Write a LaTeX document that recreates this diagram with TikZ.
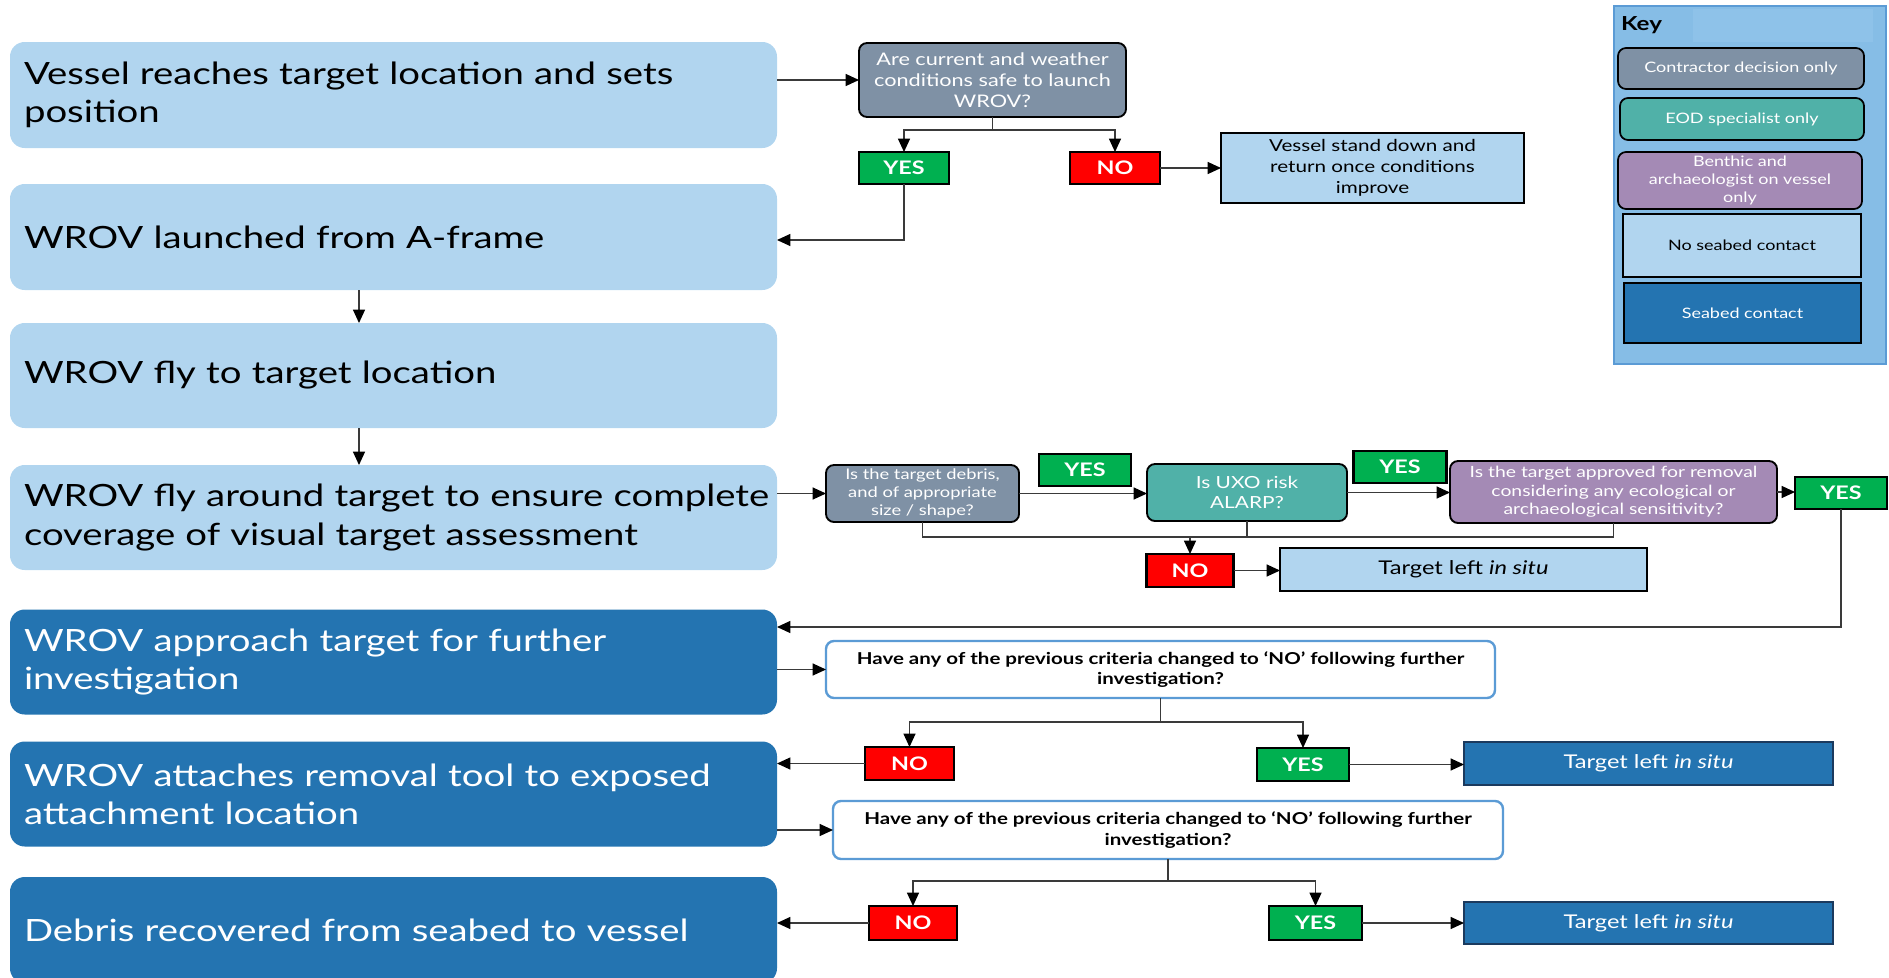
\documentclass[tikz,border=0pt]{standalone}
\usepackage{fontspec}
\setmainfont{Lato}[FakeStretch=1.25]
\usetikzlibrary{arrows.meta,calc}
\definecolor{lblue}{HTML}{B1D5EF}
\definecolor{dblue}{HTML}{2474B1}
\definecolor{cgray}{HTML}{7F91A5}
\definecolor{cteal}{HTML}{50B1A8}
\definecolor{cpurple}{HTML}{A48AB5}
\definecolor{cgreen}{HTML}{00B050}
\definecolor{cred}{HTML}{FF0000}
\definecolor{keybg}{HTML}{86BDE6}
\definecolor{keyhead}{HTML}{8EC2E9}
\definecolor{keyline}{HTML}{5B9BD5}
\definecolor{navy}{HTML}{1B3A5E}
\definecolor{connc}{HTML}{3A3A3A}
\begin{document}
\begin{tikzpicture}[x=0.75pt,y=-0.75pt,
  every node/.style={inner sep=0pt, outer sep=0pt},
  wh/.style 2 args={minimum width=#1*0.75pt, minimum height=#2*0.75pt},
  lbox/.style={rounded corners=11pt, text width=739*0.75pt, inner xsep=10.5pt, align=left, font=\fontsize{23}{28.5}\selectfont},
  lightbox/.style={lbox, fill=lblue, text=black},
  darkbox/.style={lbox, fill=dblue, text=white},
  decide/.style={draw=black, line width=1.4pt, rounded corners=6pt, text=white, align=center},
  qbox/.style={draw=keyline, line width=1.8pt, rounded corners=6pt, fill=white, text=black, align=center, font=\bfseries\fontsize{12.3}{15.4}\selectfont},
  yesbox/.style={draw=black, line width=1.6pt, fill=cgreen, text=white, font=\bfseries\fontsize{14}{16}\selectfont},
  nobox/.style={draw=black, line width=1.6pt, fill=cred, text=white, font=\bfseries\fontsize{14}{16}\selectfont},
  ltarget/.style={draw=black, line width=1.4pt, fill=lblue, text=black, align=center, font=\fontsize{14.2}{15.75}\selectfont},
  dtarget/.style={draw=navy, line width=2pt, fill=dblue, text=white, align=center, font=\fontsize{14.2}{15.75}\selectfont},
  keyitem/.style={draw=black, line width=1.3pt, align=center, font=\fontsize{10.8}{13.5}\selectfont},
  conn/.style={draw=connc, line width=0.9pt},
  arr/.style={draw=connc, line width=0.9pt, -{Triangle[length=10pt,width=9pt,color=black]}}
]
\useasboundingbox (0,0) rectangle (1889,978);
\clip (0,0) rectangle (1889,978);

% left process boxes
\node[lightbox, wh={767}{106}] (b1) at (393.5,95) {\mbox{Vessel reaches target location and sets}\\position};
\node[lightbox, wh={767}{106}] (b2) at (393.5,237) {WROV launched from A-frame};
\node[lightbox, wh={767}{105}] (b3) at (393.5,375.5) {WROV fly to target location};
\node[lightbox, wh={767}{105}] (b4) at (393.5,517.5) {\mbox{WROV fly around target to ensure complete}\\\mbox{coverage of visual target assessment}};
\node[darkbox, wh={767}{105}] (b5) at (393.5,662) {\mbox{WROV approach target for further}\\investigation};
\node[darkbox, wh={767}{105}] (b6) at (393.5,794) {\mbox{WROV attaches removal tool to exposed}\\\mbox{attachment location}};
\node[darkbox, wh={767}{106}] (b7) at (393.5,930) {\mbox{Debris recovered from seabed to vessel}};

% first decision
\node[decide, fill=cgray, wh={267}{74}, font=\fontsize{13}{15.75}\selectfont] (d1) at (992.5,80) {Are current and weather\\conditions safe to launch\\WROV?};
\node[yesbox, wh={90}{32}] (yes1) at (904,168) {YES};
\node[nobox, wh={90}{32}] (no1) at (1115,168) {NO};
\node[draw=black, line width=1.4pt, fill=lblue, align=center, wh={303}{70}, font=\fontsize{12.4}{15.75}\selectfont] (sd) at (1372.5,168) {Vessel stand down and\\return once conditions\\improve};

% visual assessment decisions
\node[decide, fill=cgray, wh={193}{57}, font=\fontsize{11}{13.75}\selectfont] (d2) at (922.5,493.5) {Is the target debris,\\and of appropriate\\size / shape?};
\node[decide, fill=cteal, wh={200}{57}, font=\fontsize{12.5}{15.5}\selectfont] (d3) at (1247,492.5) {Is UXO risk\\ALARP?};
\node[decide, fill=cpurple, wh={327}{62}, font=\fontsize{11.6}{13.75}\selectfont] (d4) at (1613.5,492) {Is the target approved for removal\\considering any ecological or\\archaeological sensitivity?};
\node[yesbox, wh={92}{32}] (yes2) at (1085,470) {YES};
\node[yesbox, wh={93}{32}] (yes3) at (1400,467) {YES};
\node[yesbox, wh={92}{32}] (yes4) at (1841,493) {YES};
\node[nobox, wh={87}{33}] (no2) at (1190,570.5) {NO};
\node[ltarget, wh={367}{43}] (tl1) at (1463.5,569.5) {Target left \textit{in situ}};

% further investigation decisions
\node[qbox, wh={669}{57}] (d5) at (1160.5,669.5) {Have any of the previous criteria changed to ‘NO’ following further\\investigation?};
\node[nobox, wh={89}{33}] (no3) at (909.5,763.5) {NO};
\node[yesbox, wh={92}{33}] (yes5) at (1303,764.5) {YES};
\node[dtarget, wh={369}{43}] (tr1) at (1648.5,763.5) {Target left \textit{in situ}};

\node[qbox, wh={670}{58}] (d6) at (1168,830) {Have any of the previous criteria changed to ‘NO’ following further\\investigation?};
\node[nobox, wh={88}{34}] (no4) at (913,923) {NO};
\node[yesbox, wh={93}{34}] (yes6) at (1315.5,923) {YES};
\node[dtarget, wh={369}{42}] (tr2) at (1648.5,923) {Target left \textit{in situ}};

% key
\node[draw=keyline, line width=1.6pt, fill=keybg, wh={272}{358}] (keybox) at (1750,185) {};
\fill[keyhead] (1693,9) rectangle (1873,42);
\node[anchor=west, font=\bfseries\fontsize{14.5}{16}\selectfont] (keyt) at (1621,25) {Key};
\node[keyitem, fill=cgray, text=white, rounded corners=6pt, wh={246}{41}] (k1) at (1741,68.5) {Contractor decision only};
\node[keyitem, fill=cteal, text=white, rounded corners=6pt, wh={244}{42}] (k2) at (1742,119) {EOD specialist only};
\node[keyitem, fill=cpurple, text=white, rounded corners=6pt, wh={244}{57}] (k3) at (1740,180.5) {Benthic and\\archaeologist on vessel\\only};
\node[keyitem, fill=lblue, text=black, wh={238}{63}] (k4) at (1742,245.5) {No seabed contact};
\node[keyitem, fill=dblue, text=white, wh={237}{60}] (k5) at (1742.5,313) {Seabed contact};

% connectors: launch
\draw[arr] (b1.east |- d1.west) -- (d1.west);
\coordinate (j1) at (d1.south |- 0,130);
\draw[conn] (d1.south) -- (j1);
\draw[arr] (j1) -| (yes1.north);
\draw[arr] (j1) -| (no1.north);
\draw[arr] (no1.east) -- (sd.west);
\coordinate (r2) at (b2.east |- 0,240);
\draw[arr] (yes1.south) |- (r2);
\draw[arr] (b2.south -| 359,0) -- (b3.north -| 359,0);
\draw[arr] (b3.south -| 359,0) -- (b4.north -| 359,0);

% connectors: visual assessment
\draw[arr] (b4.east |- d2.west) -- (d2.west);
\draw[arr] (d2.east) -- (d3.west |- d2.east);
\draw[arr] (d3.east) -- (d4.west |- d3.east);
\draw[arr] (d4.east) -- (yes4.west |- d4.east);
\coordinate (j2) at (1190,537);
\draw[conn] (d2.south) |- (j2);
\draw[conn] (d3.south) |- (j2);
\draw[conn] (d4.south) |- (j2);
\draw[arr] (j2) -- (no2.north);
\draw[arr] (no2.east) -- (tl1.west |- no2.east);
\coordinate (r5) at (b5.east |- 0,627);
\draw[arr] (yes4.south) |- (r5);

% connectors: further investigation
\draw[arr] (b5.east |- d5.west) -- (d5.west);
\coordinate (j5) at (d5.south |- 0,722);
\draw[conn] (d5.south) -- (j5);
\draw[arr] (j5) -| (no3.north);
\draw[arr] (j5) -| (yes5.north);
\draw[arr] (no3.west) -- (b6.east |- no3.west);
\draw[arr] (yes5.east) -- (tr1.west |- yes5.east);

\draw[arr] (b6.east |- d6.west) -- (d6.west);
\coordinate (j6) at (d6.south |- 0,881);
\draw[conn] (d6.south) -- (j6);
\draw[arr] (j6) -| (no4.north);
\draw[arr] (j6) -| (yes6.north);
\draw[arr] (no4.west) -- (b7.east |- no4.west);
\draw[arr] (yes6.east) -- (tr2.west |- yes6.east);
\end{tikzpicture}
\end{document}
